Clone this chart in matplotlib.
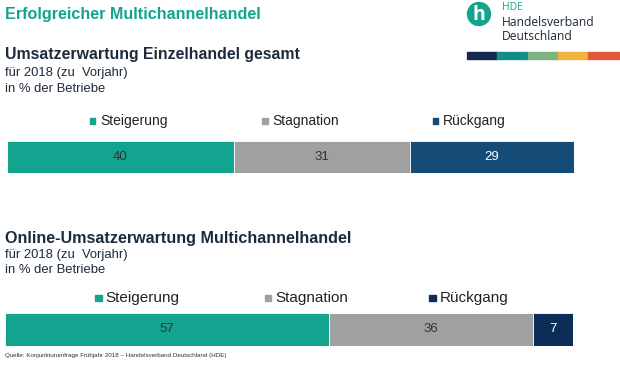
import matplotlib.pyplot as plt
from matplotlib.patches import Circle, Rectangle

plt.rcParams['font.family'] = ['Liberation Sans', 'DejaVu Sans']

# data
categories = ['Steigerung', 'Stagnation', 'Rückgang']
retail_total = [40, 31, 29]
online_multichannel = [57, 36, 7]

teal = '#13a48f'
grey = '#a0a0a0'
navy1 = '#154b77'
navy2 = '#0c2d57'
heading_col = '#1c2b3c'

W, H = 620, 365
fig = plt.figure(figsize=(6.2, 3.65), dpi=100)


def fy(y):
    return 1 - y / H


def fx(x):
    return x / W


# texts
fig.text(fx(5), fy(14), 'Erfolgreicher Multichannelhandel', color=teal,
         fontsize=11.6, fontweight='bold', va='center')
fig.text(fx(5), fy(55), 'Umsatzerwartung Einzelhandel gesamt', color=heading_col,
         fontsize=11.4, fontweight='bold', va='center')
fig.text(fx(5), fy(73), 'für 2018 (zu  Vorjahr)', color=heading_col, fontsize=9.4, va='center')
fig.text(fx(5), fy(89), 'in % der Betriebe', color=heading_col, fontsize=9.4, va='center')

fig.text(fx(5), fy(238), 'Online-Umsatzerwartung Multichannelhandel', color=heading_col,
         fontsize=11.6, fontweight='bold', va='center')
fig.text(fx(5), fy(255), 'für 2018 (zu  Vorjahr)', color=heading_col, fontsize=9.4, va='center')
fig.text(fx(5), fy(270), 'in % der Betriebe', color=heading_col, fontsize=9.4, va='center')

fig.text(fx(5), fy(355), 'Quelle: Konjunkturumfrage Frühjahr 2018 – Handelsverband Deutschland (HDE)',
         color='#333333', fontsize=4.5, va='center')


def stacked_bar(left, top, right, bottom, values, colors, text_colors):
    ax = fig.add_axes([fx(left), fy(bottom), fx(right - left), (bottom - top) / H])
    start = 0
    for v, c, tc in zip(values, colors, text_colors):
        ax.barh(0, v, left=start, color=c, height=1, edgecolor='white', linewidth=0.6)
        ax.text(start + v / 2, 0, str(v), ha='center', va='center', fontsize=9.5, color=tc)
        start += v
    ax.set_xlim(0, sum(values))
    ax.set_ylim(-0.5, 0.5)
    ax.axis('off')


def legend_row(y, xs, colors, size, sq, gap):
    for x, lab, c in zip(xs, categories, colors):
        fig.patches.append(Rectangle((fx(x - sq / 2), fy(y + sq / 2)), sq / W, sq / H,
                                     transform=fig.transFigure, color=c))
        fig.text(fx(x + gap), fy(y), lab, fontsize=size, color='#222222', va='center')


legend_row(121, [92.5, 265, 435.5], [teal, grey, navy1], 10, 5.5, 7.5)
stacked_bar(7, 141, 574, 173, retail_total, [teal, grey, navy1], ['#333333', '#333333', 'white'])

legend_row(298, [98.5, 268, 432.5], [teal, grey, navy2], 11, 6.5, 7)
stacked_bar(5, 313, 573, 346, online_multichannel, [teal, grey, navy2], ['#333333', '#333333', 'white'])

# logo
logo = fig.add_axes([0, 0, 1, 1], zorder=-1)
logo.set_xlim(0, W)
logo.set_ylim(H, 0)
logo.axis('off')
logo.add_patch(Circle((479, 14), 11.5, color=teal))
logo.text(479, 15, 'h', color='white', fontsize=14, fontweight='bold', ha='center', va='center',
          family='Open Sans')
logo.text(502, 8, 'HDE', color=teal, fontsize=7.5, va='center', family='Open Sans')
logo.text(502, 23, 'Handelsverband', color=heading_col, fontsize=8.7, va='center', family='Open Sans')
logo.text(502, 37, 'Deutschland', color=heading_col, fontsize=8.7, va='center', family='Open Sans')
stripe = ['#142c52', '#138d8a', '#7db383', '#f0b33f', '#e05a3a']
for i, c in enumerate(stripe):
    logo.add_patch(Rectangle((467 + i * 30.3, 52), 30.3, 7, color=c))

fig.savefig('out.png', dpi=100)
